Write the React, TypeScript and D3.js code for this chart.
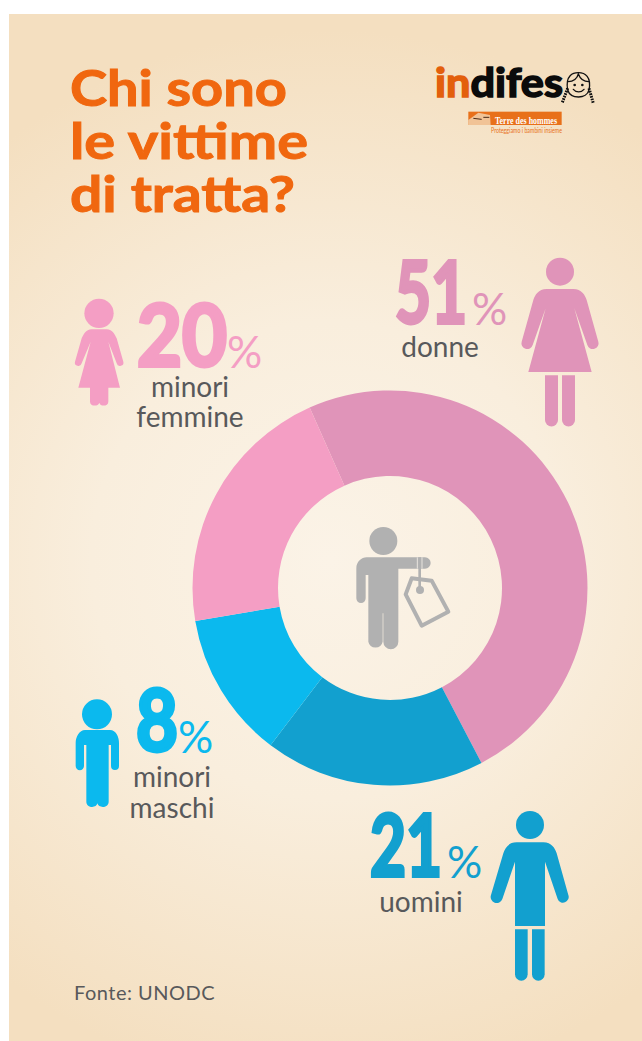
import React from 'react';
import * as d3 from 'd3';

// shares as drawn in the ring, they do not follow the printed percentages exactly
const categories = ['donne', 'uomini', 'minori maschi', 'minori femmine'];
const ringShares = [49, 18, 12, 21];
const printedPercents = [51, 21, 8, 20];
const ringColors = ['#e094b9', '#12a0cf', '#0bb9ee', '#f49ec4'];

const titleLines = ['Chi sono', 'le vittime', 'di tratta?'];
const titleWidths = [217, 238, 225];
const source = 'Fonte: UNODC';

const TEXT_GREY = '#58595b';
const ICON_GREY = '#b1b1b1';
const ORANGE = '#f0670f';
const FONT = 'Lato, sans-serif';

const W = 642;
const H = 1041;

const pie = d3
  .pie<number>()
  .sort(null)
  .startAngle((-24 * Math.PI) / 180)
  .endAngle(((360 - 24) * Math.PI) / 180);

const arc = d3.arc<d3.PieArcDatum<number>>().innerRadius(112).outerRadius(197.5);

// no black weight of Lato here, the stroke thickens the bold
const Percent = ({ index, x, y, width, pctX }) => (
  <g fill={ringColors[index]} fontFamily={FONT}>
    <text
      x={x}
      y={y - 2}
      fontSize={87}
      fontWeight={700}
      stroke={ringColors[index]}
      strokeWidth={4}
      textLength={width}
      lengthAdjust="spacingAndGlyphs"
    >
      {printedPercents[index]}
    </text>
    <text x={pctX} y={y} fontSize={44} fontWeight={400}>
      %
    </text>
  </g>
);

const Label = ({ x, lines, size = 28 }) => (
  <text textAnchor="middle" fill={TEXT_GREY} fontFamily={FONT} fontSize={size} fontWeight={400}>
    {lines.map((l) => (
      <tspan key={l[0]} x={x} y={l[1]}>
        {l[0]}
      </tspan>
    ))}
  </text>
);

// icons are traced at 3x, same scale as the crops
const Icon = ({ x, y, fill, children }) => (
  <g transform={`translate(${x},${y}) scale(${1 / 3})`} fill={fill}>
    {children}
  </g>
);

const Woman = () => (
  <Icon x={380} y={245} fill={ringColors[0]}>
    <circle cx={540} cy={80} r={42} />
    <path d="M500,132 L580,132 C605,132 615,150 620,165 L655,290 A17,17 0 0 1 622,300 L583,190 L635,381 L445,381 L497,190 L458,300 A17,17 0 0 1 425,290 L460,165 C465,150 475,132 500,132 Z" />
    <path d="M495,391 H534 V525 A19.5,19.5 0 0 1 495,525 Z" />
    <path d="M546,391 H585 V525 A19.5,19.5 0 0 1 546,525 Z" />
  </Icon>
);

const Man = () => (
  <Icon x={360} y={800} fill={ringColors[1]}>
    <circle cx={510} cy={75} r={42} />
    <path d="M470,127 L550,127 C575,127 585,145 590,160 L625,285 A17,17 0 0 1 593,297 L555,185 L555,378 L465,378 L465,185 L427,297 A17,17 0 0 1 393,285 L430,160 C435,145 445,127 470,127 Z" />
    <path d="M465,388 H503 V523 A19,19 0 0 1 465,523 Z" />
    <path d="M516,388 H554 V523 A19,19 0 0 1 516,523 Z" />
  </Icon>
);

const Boy = () => (
  <Icon x={60} y={680} fill={ringColors[2]}>
    <circle cx={111} cy={103} r={45} />
    <path d="M75,150 L150,150 C168,150 177,170 177,190 V258 A12,12 0 0 1 153,258 V195 H146 V365 C146,385 115,385 112,370 C110,385 79,385 79,365 V195 H72 V258 A12,12 0 0 1 47,258 V190 C47,170 58,150 75,150 Z" />
  </Icon>
);

const Girl = () => (
  <Icon x={60} y={280} fill={ringColors[3]}>
    <circle cx={117} cy={100} r={44} />
    <path d="M95,148 H140 C158,148 165,165 170,175 L190,245 A10,10 0 0 1 170,250 L145,185 L180,323 H145 V365 C145,380 120,380 118,368 C115,380 90,380 90,365 V323 H55 L92,185 L65,250 A10,10 0 0 1 45,245 L65,175 C70,165 77,148 95,148 Z" />
  </Icon>
);

const Trafficked = () => (
  <Icon x={330} y={510} fill={ICON_GREY}>
    <circle cx={160} cy={93} r={42} />
    <path d="M110,142 H285 A17,17 0 0 1 285,176 H205 V395 A22,22 0 0 1 160,395 V310 H158 V395 A22,22 0 0 1 115,395 V195 H107 V265 A14,14 0 0 1 79,265 V175 C79,155 95,142 110,142 Z" />
    <path d="M262,142 V176 M276,142 V176" stroke="#e8e4de" strokeWidth={3} fill="none" />
    <path d="M269,142 V240" stroke={ICON_GREY} strokeWidth={8} fill="none" />
    <path
      d="M245,205 L305,212 L355,305 L275,347 L227,253 Z"
      fill="none"
      stroke={ICON_GREY}
      strokeWidth={12}
      strokeLinejoin="round"
    />
    <circle cx={270} cy={240} r={12} />
  </Icon>
);

const Logo = () => (
  <g>
    <text
      x={435}
      y={97}
      fontFamily={FONT}
      fontSize={41}
      fontWeight={700}
      strokeWidth={1.6}
      textLength={128}
      lengthAdjust="spacingAndGlyphs"
    >
      <tspan fill="#e35f0c" stroke="#e35f0c">in</tspan>
      <tspan fill="#0b0b0b" stroke="#0b0b0b">difes</tspan>
    </text>
    <Icon x={400} y={40} fill="none">
      <g stroke="#111" strokeWidth={4} strokeLinecap="round">
        <path d="M503,150 C495,105 520,98 535,98 C555,98 575,110 567,150 C560,178 512,178 503,150 Z" />
        <path d="M505,125 C520,125 532,115 535,102 C540,115 552,125 566,125" />
        <path d="M503,145 L486,190 M567,145 L580,190" strokeWidth={9} strokeDasharray="5 3" strokeLinecap="butt" />
        <circle cx={524} cy={135} r={2} />
        <circle cx={547} cy={135} r={2} />
        <path d="M520,148 C528,158 544,158 552,148" />
      </g>
    </Icon>
    <Icon x={400} y={40} fill="#e8701a">
      <rect x={205} y={215} width={280} height={40} />
      <path d="M205,240 L235,218 L270,225 L272,255 H205 Z" fill="#f4dfc0" opacity={0.75} />
      <path d="M220,235 L245,238 M250,232 L268,232" stroke="#4a2a16" strokeWidth={3} />
    </Icon>
    <text x={495} y={123.5} fill="#fff" fontFamily="'Liberation Serif', serif" fontSize={10.5} fontWeight={700} textLength={62} lengthAdjust="spacingAndGlyphs">
      Terre des hommes
    </text>
    <text x={491} y={133} fill="#e8701a" fontFamily={FONT} fontSize={7} textLength={71} lengthAdjust="spacingAndGlyphs">
      Proteggiamo i bambini insieme
    </text>
  </g>
);

export default function App() {
  const slices = pie(ringShares);
  return (
    <svg
      width={W}
      height={H}
      viewBox={`0 0 ${W} ${H}`}
      style={{ position: 'absolute', left: 0, top: 0, display: 'block' }}
    >
      <defs>
        <radialGradient id="paper" gradientUnits="userSpaceOnUse" cx={330} cy={560} r={530}>
          <stop offset="0" stopColor="#fbf3e7" />
          <stop offset="0.45" stopColor="#f9eedd" />
          <stop offset="1" stopColor="#f4dfc0" />
        </radialGradient>
      </defs>
      <rect width={W} height={H} fill="#fff" />
      <rect x={9} y={14} width={W - 9} height={H - 14} fill="url(#paper)" />

      {titleLines.map((t, i) => (
        <text
          key={t}
          x={70}
          y={106 + i * 53}
          fill={ORANGE}
          stroke={ORANGE}
          strokeWidth={1}
          fontFamily={FONT}
          fontSize={50}
          fontWeight={700}
          textLength={titleWidths[i]}
          lengthAdjust="spacingAndGlyphs"
        >
          {t}
        </text>
      ))}
      <Logo />

      <g transform="translate(390,588)">
        {slices.map((s, i) => (
          <path key={categories[i]} d={arc(s)} fill={ringColors[i]} />
        ))}
      </g>
      <Trafficked />

      <Woman />
      <Percent index={0} x={395} y={325} width={72} pctX={472} />
      <Label x={440} lines={[['donne', 357]]} />

      <Man />
      <Percent index={1} x={370} y={878} width={72} pctX={447} />
      <Label x={421} lines={[['uomini', 912]]} />

      <Boy />
      <Percent index={2} x={136} y={753} width={42} pctX={178} />
      <Label x={172} lines={[['minori', 787], ['maschi', 818]]} />

      <Girl />
      <Percent index={3} x={137} y={368} width={90} pctX={227} />
      <Label x={190} lines={[['minori', 397], ['femmine', 427]]} />

      <text x={74} y={1000} fill={TEXT_GREY} fontFamily={FONT} fontSize={20} fontWeight={400} letterSpacing={0.5}>
        {source}
      </text>
    </svg>
  );
}
